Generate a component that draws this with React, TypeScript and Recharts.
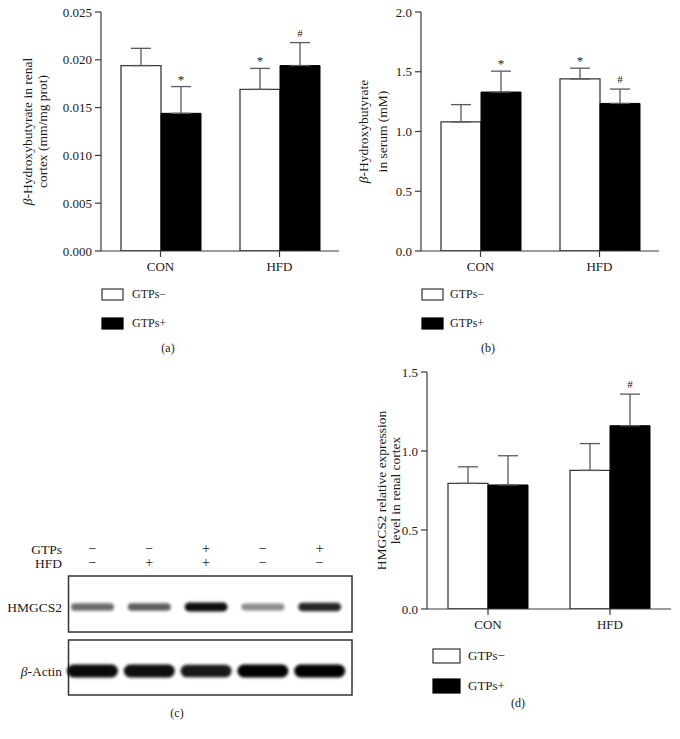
import React from 'react';
import { BarChart, Bar, XAxis, YAxis, ErrorBar, LabelList } from 'recharts';

const FONT = "'Liberation Serif', 'DejaVu Serif', serif";
const INK = '#1a1a1a';
const AXIS = '#3a3a3a';

const categories = ['CON', 'HFD'];
const seriesNames = ['GTPs−', 'GTPs+'];

// Panel (a): β-hydroxybutyrate in renal cortex
const aNeg = [0.0194, 0.0169];
const aNegErr = [0.0018, 0.0022];
const aPos = [0.0144, 0.0194];
const aPosErr = [0.0028, 0.0024];
const aNegSig = ['', '*'];
const aPosSig = ['*', '#'];
const aTicks = [0, 0.005, 0.01, 0.015, 0.02, 0.025];

// Panel (b): β-hydroxybutyrate in serum
const bNeg = [1.08, 1.44];
const bNegErr = [0.145, 0.09];
const bPos = [1.33, 1.235];
const bPosErr = [0.175, 0.12];
const bNegSig = ['', '*'];
const bPosSig = ['*', '#'];
const bTicks = [0, 0.5, 1, 1.5, 2];

// Panel (d): HMGCS2 relative expression
const dNeg = [0.795, 0.877];
const dNegErr = [0.105, 0.17];
const dPos = [0.785, 1.16];
const dPosErr = [0.185, 0.2];
const dNegSig = ['', ''];
const dPosSig = ['', '#'];
const dTicks = [0, 0.5, 1, 1.5];

// Panel (c): western blot lanes
const lanes = ['L1', 'L2', 'L3', 'L4', 'L5'];
const gtpsSigns = ['−', '−', '+', '−', '+'];
const hfdSigns = ['−', '+', '+', '−', '−'];
const hmgcs2Density = [0.58, 0.64, 0.95, 0.45, 0.85];
const actinDensity = [0.96, 0.94, 0.9, 1, 1];

function buildRows(neg: number[], negErr: number[], pos: number[], posErr: number[], negSig: string[], posSig: string[]) {
  return categories.map((cat, i) => ({
    cat,
    neg: neg[i],
    negErr: [0, negErr[i]],
    pos: pos[i],
    posErr: [0, posErr[i]],
    negSig: negSig[i],
    posSig: posSig[i],
  }));
}

function makeSig(vals: number[], errs: number[]) {
  return (props: any) => {
    const vb = props.viewBox || props;
    const { x, y, width, height } = vb;
    const i = props.index;
    const value = props.value;
    if (!value || i == null) return null;
    const v = vals[i];
    const e = errs[i];
    const h = Math.abs(height);
    const top = Math.min(y, y + height);
    const errTop = top - (h / v) * e;
    const isStar = value === '*';
    return (
      <text
        x={x + width / 2}
        y={errTop - (isStar ? 3 : 6)}
        textAnchor="middle"
        fontSize={isStar ? 13 : 11}
        fontFamily={FONT}
        fill={INK}
      >
        {value}
      </text>
    );
  };
}

function renderLine(s: string) {
  if (s.startsWith('β')) {
    return (
      <>
        <tspan fontStyle="italic">β</tspan>
        <tspan>{s.slice(1)}</tspan>
      </>
    );
  }
  return s;
}

function makeYLabel(lines: string[], xs: number[], fontSize: number) {
  return (props: any) => {
    const vb = props.viewBox || {};
    const cy = (vb.y ?? 0) + (vb.height ?? 0) / 2;
    return (
      <g>
        {lines.map((l, i) => (
          <text
            key={i}
            x={xs[i]}
            y={cy}
            transform={`rotate(-90, ${xs[i]}, ${cy})`}
            textAnchor="middle"
            dominantBaseline="central"
            fontSize={fontSize}
            fontFamily={FONT}
            fill={INK}
          >
            {renderLine(l)}
          </text>
        ))}
      </g>
    );
  };
}

type PanelProps = {
  left: number;
  top: number;
  rows: any[];
  neg: number[];
  negErr: number[];
  pos: number[];
  posErr: number[];
  margin: { top: number; right: number; bottom: number; left: number };
  domain: [number, number];
  ticks: number[];
  decimals: number;
  gap: number;
  labelLines: string[];
  labelXs: number[];
};

function BarPanel(p: PanelProps) {
  return (
    <div style={{ position: 'absolute', left: p.left, top: p.top }}>
      <BarChart width={340} height={280} data={p.rows} margin={p.margin} barCategoryGap={p.gap} barGap={0}>
        <XAxis
          dataKey="cat"
          height={25}
          axisLine={{ stroke: AXIS, strokeWidth: 1.2 }}
          tickLine={{ stroke: AXIS, strokeWidth: 1.2 }}
          tickSize={6}
          tickMargin={5}
          tick={{ fontSize: 13, fontFamily: FONT, fill: INK }}
        />
        <YAxis
          width={45}
          domain={p.domain}
          ticks={p.ticks}
          interval={0}
          allowDataOverflow
          tickFormatter={(v: number) => v.toFixed(p.decimals)}
          axisLine={{ stroke: AXIS, strokeWidth: 1.2 }}
          tickLine={{ stroke: AXIS, strokeWidth: 1.2 }}
          tickSize={6}
          tickMargin={3}
          tick={{ fontSize: 13, fontFamily: FONT, fill: INK }}
          label={makeYLabel(p.labelLines, p.labelXs, 13.5)}
        />
        <Bar dataKey="neg" name={seriesNames[0]} fill="#ffffff" stroke="#3a3a3a" strokeWidth={1.3} isAnimationActive={false}>
          <ErrorBar dataKey="negErr" width={10} stroke="#5a5a5a" strokeWidth={1.3} direction="y" />
          <LabelList dataKey="negSig" content={makeSig(p.neg, p.negErr)} />
        </Bar>
        <Bar dataKey="pos" name={seriesNames[1]} fill="#000000" stroke="#000000" strokeWidth={1} isAnimationActive={false}>
          <ErrorBar dataKey="posErr" width={10} stroke="#5a5a5a" strokeWidth={1.3} direction="y" />
          <LabelList dataKey="posSig" content={makeSig(p.pos, p.posErr)} />
        </Bar>
      </BarChart>
    </div>
  );
}

function makeBand(thickBase: number, thickGain: number, blur: number, prefix: string, plotH: number, shift: number) {
  return (props: any) => {
    const { x, width, index, payload, background } = props;
    const d = payload.density as number;
    const cy = background ? background.y + background.height / 2 + shift : props.y + props.height - plotH / 2 + shift;
    const th = thickBase + thickGain * d;
    const id = `${prefix}-${index}`;
    return (
      <g>
        <defs>
          <filter id={id} x="-20%" y="-150%" width="140%" height="400%">
            <feGaussianBlur stdDeviation={blur} />
          </filter>
        </defs>
        <rect x={x + 2} y={cy - th / 2} width={width - 4} height={th} rx={th / 2} fill="#000" fillOpacity={d} filter={`url(#${id})`} />
      </g>
    );
  };
}

const SignTick = (props: any) => {
  const { x, payload } = props;
  const i = payload.index;
  return (
    <g>
      <text x={x} y={17} textAnchor="middle" fontSize={14} fontFamily={FONT} fill={INK}>
        {gtpsSigns[i]}
      </text>
      <text x={x} y={31} textAnchor="middle" fontSize={14} fontFamily={FONT} fill={INK}>
        {hfdSigns[i]}
      </text>
    </g>
  );
};

function Legend({ x, y1, y2, w, h, tx, fs }: { x: number; y1: number; y2: number; w: number; h: number; tx: number; fs: number }) {
  return (
    <g fontFamily={FONT} fill={INK} fontSize={fs}>
      <rect x={x} y={y1} width={w} height={h} fill="#fff" stroke="#333" strokeWidth={1.2} />
      <text x={tx} y={y1 + h / 2 + fs * 0.33}>{seriesNames[0]}</text>
      <rect x={x} y={y2} width={w} height={h} fill="#000" stroke="#000" strokeWidth={1.2} />
      <text x={tx} y={y2 + h / 2 + fs * 0.33}>{seriesNames[1]}</text>
    </g>
  );
}

export default function App() {
  const rowsA = buildRows(aNeg, aNegErr, aPos, aPosErr, aNegSig, aPosSig);
  const rowsB = buildRows(bNeg, bNegErr, bPos, bPosErr, bNegSig, bPosSig);
  const rowsD = buildRows(dNeg, dNegErr, dPos, dPosErr, dNegSig, dPosSig);
  const hmgRows = lanes.map((lane, i) => ({ lane, density: hmgcs2Density[i] }));
  const actRows = lanes.map((lane, i) => ({ lane, density: actinDensity[i] }));

  return (
    <div style={{ position: 'absolute', left: 0, top: 0, width: 680, height: 739, background: '#fff', fontFamily: FONT }}>
      <svg width={680} height={739} style={{ position: 'absolute', left: 0, top: 0 }}>
        <Legend x={102} y1={289} y2={318} w={21} h={11} tx={132} fs={12} />
        <Legend x={422} y1={289} y2={318} w={21} h={11} tx={450} fs={12} />
        <Legend x={433} y1={649} y2={679} w={27} h={14} tx={468} fs={13} />
        <g fontFamily={FONT} fill={INK} fontSize={12} textAnchor="middle">
          <text x={168} y={352}>(a)</text>
          <text x={488} y={352}>(b)</text>
          <text x={177} y={717}>(c)</text>
          <text x={518} y={707}>(d)</text>
        </g>
        <g fontFamily={FONT} fill={INK} fontSize={13.5} textAnchor="end">
          <text x={62} y={553.5}>GTPs</text>
          <text x={62} y={567.5}>HFD</text>
          <text x={62} y={611.5}>HMGCS2</text>
          <text x={62} y={675.5}>
            <tspan fontStyle="italic">β</tspan>-Actin
          </text>
        </g>
        <rect x={68.5} y={576} width={283.5} height={56} fill="none" stroke="#333" strokeWidth={1.5} />
        <rect x={68.5} y={640} width={283.5} height={55} fill="none" stroke="#333" strokeWidth={1.5} />
      </svg>

      <BarPanel
        left={0}
        top={0}
        rows={rowsA}
        neg={aNeg}
        negErr={aNegErr}
        pos={aPos}
        posErr={aPosErr}
        margin={{ top: 12, right: 1, bottom: 4, left: 56 }}
        domain={[0, 0.025]}
        ticks={aTicks}
        decimals={3}
        gap={20}
        labelLines={['β-Hydroxybutyrate in renal', 'cortex (mm/mg prot)']}
        labelXs={[27, 42]}
      />
      <BarPanel
        left={340}
        top={0}
        rows={rowsB}
        neg={bNeg}
        negErr={bNegErr}
        pos={bPos}
        posErr={bPosErr}
        margin={{ top: 12, right: 21, bottom: 4, left: 36 }}
        domain={[0, 2]}
        ticks={bTicks}
        decimals={1}
        gap={20}
        labelLines={['β-Hydroxybutyrate', 'in serum (mM)']}
        labelXs={[23, 42]}
      />
      <BarPanel
        left={340}
        top={360}
        rows={rowsD}
        neg={dNeg}
        negErr={dNegErr}
        pos={dPos}
        posErr={dPosErr}
        margin={{ top: 12, right: 9, bottom: 6, left: 42 }}
        domain={[0, 1.5]}
        ticks={dTicks}
        decimals={1}
        gap={21}
        labelLines={['HMGCS2 relative expression', 'level in renal cortex']}
        labelXs={[41, 55]}
      />

      <div style={{ position: 'absolute', left: 64, top: 536 }}>
        <BarChart width={284} height={96} data={hmgRows} margin={{ top: 0, right: 0, bottom: 0, left: 0 }} barCategoryGap={5}>
          <XAxis dataKey="lane" orientation="top" height={40} axisLine={false} tickLine={false} interval={0} tick={SignTick} />
          <YAxis hide domain={[0, 1]} />
          <Bar dataKey="density" isAnimationActive={false} shape={makeBand(5, 4, 1.6, 'hmg', 56, 3)} />
        </BarChart>
      </div>
      <div style={{ position: 'absolute', left: 64, top: 640 }}>
        <BarChart width={284} height={55} data={actRows} margin={{ top: 0, right: 0, bottom: 0, left: 0 }} barCategoryGap={1}>
          <XAxis dataKey="lane" hide />
          <YAxis hide domain={[0, 1]} />
          <Bar dataKey="density" isAnimationActive={false} shape={makeBand(9, 4, 1.6, 'act', 55, 3.5)} />
        </BarChart>
      </div>
    </div>
  );
}
